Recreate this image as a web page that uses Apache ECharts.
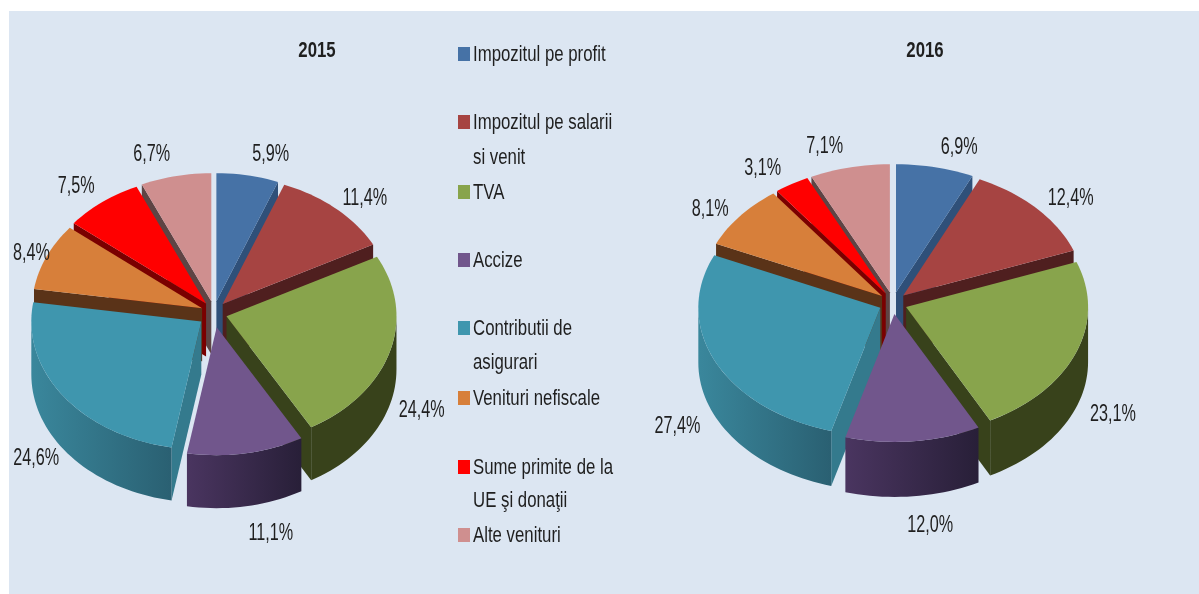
<!DOCTYPE html>
<html><head><meta charset="utf-8">
<style>html,body{margin:0;padding:0;background:#fff}#c{width:1199px;height:594px}</style>
<script src="https://cdn.jsdelivr.net/npm/echarts@6/dist/echarts.min.js"></script>
</head><body><div id="c"></div>
<script>
// ---- data ----
const categories = ['Impozitul pe profit','Impozitul pe salarii\nsi venit','TVA','Accize','Contributii de\nasigurari','Venituri nefiscale','Sume primite de la\nUE şi donaţii','Alte venituri'];
const years = ['2015','2016'];
const values2015 = [5.9,11.4,24.4,11.1,24.6,8.4,7.5,6.7];
const values2016 = [6.9,12.4,23.1,12.0,27.4,8.1,3.1,7.1];
// ---- styles and layout ----
const topColors  = ['#4672a6','#a64442','#88a44c','#71568c','#3f96ae','#d77f3a','#ff0000','#cf8f8f'];
const sideColors = ['#2f5079','#4f1f1f','#38421b','#2f2340','#347a8d','#5a3318','#7a0000','#5e4444'];
const rimGradients = [null,null,['#38421b','#38421b'],['#4a3560','#281f38'],['#3a879c','#2a6072'],null,null,null];
const pies = [
 {cx:214,cy:313,rx:170,ry:128,ex:13,ey:12,depth:53,values:values2015,boost:[1,1,1,1.2,1.2,1,1,1],
  nudge:[[23,-21],[29,-10],[32,58],[25,80],[-27,62],[-15,-3],[-26,-16],[-24,-22]]},
 {cx:893,cy:303,rx:182,ry:128,ex:14,ey:11,depth:55,values:values2016,boost:[1,1,1,1,1,1,1,1],
  nudge:[[24,-20],[34,-10],[37,62],[17,84],[-38,64],[-30,-7],[-29,-16],[-25,-21]]}
];
const titleX = [317,925], titleY = 51;
const legendY = [55,123,193,261,329,399,468,536];
const swatchShift = -1;
const continuationGap = [0,35,0,0,34,0,33,0];
const legendSwatchX = 458, legendTextX = 473;
const FONT = '"Liberation Sans",Arial,sans-serif';
const TEXT = '#1f1f1f';
const rad = d => d*Math.PI/180;

function renderSlice(params, api){
  const i = params.seriesIndex, p = pies[params.dataIndex];
  const total = p.values.reduce((a,b)=>a+b,0);
  const before = p.values.slice(0,i).reduce((a,b)=>a+b,0);
  const v = api.value(0);
  const a0 = before/total*360, a1 = (before+v)/total*360, mid = (a0+a1)/2;
  const ax = p.cx + p.boost[i]*p.ex*Math.sin(rad(mid)), ay = p.cy - p.boost[i]*p.ey*Math.cos(rad(mid));
  const rim = d => [ax+p.rx*Math.sin(rad(d)), ay-p.ry*Math.cos(rad(d))];
  const down = q => [q[0],q[1]+p.depth];
  const arc = (s,e) => { const o=[]; const n=Math.max(2,Math.ceil((e-s)/2)); for(let k=0;k<=n;k++) o.push(rim(s+(e-s)*k/n)); return o; };
  const order = Math.round(Math.min(mid,360-mid))*10+10;
  const kids = [];
  const side = (d) => kids.push({type:'polygon',z2:order,silent:true,
    shape:{points:[[ax,ay],rim(d),down(rim(d)),[ax,ay+p.depth]]},style:{fill:sideColors[i]}});
  if(a1<180) side(a1);
  if(a0>180) side(a0);
  const s = Math.max(a0,90), e = Math.min(a1,270);
  if(e>s){
    const top = arc(s,e), g = rimGradients[i] || [sideColors[i],sideColors[i]];
    kids.push({type:'polygon',z2:order+1,silent:true,
      shape:{points:top.concat(top.slice().reverse().map(down))},
      style:{fill:new echarts.graphic.LinearGradient(0,0,1,0,[{offset:0,color:g[0]},{offset:1,color:g[1]}])}});
  }
  kids.push({type:'polygon',z2:order+2,silent:true,
    shape:{points:[[ax,ay]].concat(arc(a0,a1))},style:{fill:topColors[i]}});
  const m = rim(mid), n = p.nudge[i];
  kids.push({type:'text',z2:9000,silent:true,x:m[0]+n[0],y:m[1]+n[1],scaleX:0.81,scaleY:1.2,
    style:{text:v.toFixed(1).replace('.',',')+'%',font:'20px '+FONT,fill:TEXT,align:'center',verticalAlign:'middle'}});
  return {type:'group',children:kids};
}

const narrowText = (text,x,y,align,weight) => ({type:'text',z:10,silent:true,x,y,scaleX:0.84,scaleY:1.12,
  style:{text,font:(weight||'normal')+' 20px '+FONT,fill:TEXT,align,verticalAlign:'middle'}});

const legendEls = [];
categories.forEach((c,i)=>{
  const lines = c.split('\n');
  legendEls.push({type:'rect',z:10,silent:true,shape:{x:legendSwatchX,y:legendY[i]+swatchShift-7,width:12,height:14},style:{fill:topColors[i]}});
  legendEls.push(narrowText(lines[0],legendTextX,legendY[i],'left'));
  if(lines[1]) legendEls.push(narrowText(lines[1],legendTextX,legendY[i]+continuationGap[i],'left'));
});

const chart = echarts.init(document.getElementById('c'));
chart.setOption({
  animation:false,
  backgroundColor:'#ffffff',
  graphic:[
    {type:'rect',z:-10,silent:true,shape:{x:9,y:11,width:1190,height:583},style:{fill:'#dce6f2'}}
  ].concat(years.map((y,i)=>narrowText(y,titleX[i],titleY,'center','bold')), legendEls),
  series:categories.map((c,i)=>({
    type:'custom',name:c,coordinateSystem:'none',renderItem:renderSlice,
    itemStyle:{color:topColors[i]},
    data:[[values2015[i]],[values2016[i]]]
  }))
});
</script></body></html>
